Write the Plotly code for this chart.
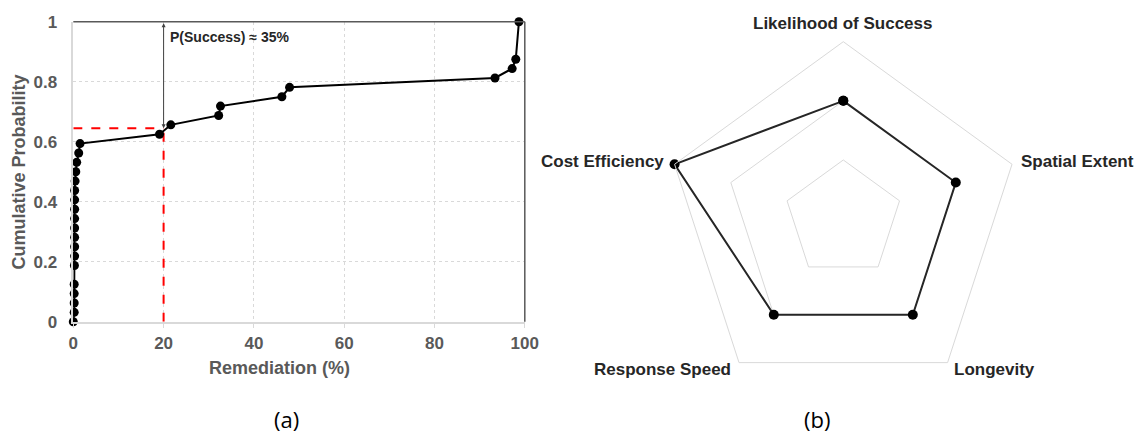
import plotly.graph_objects as go

# ---------------- data: panel (a) cumulative distribution ----------------
remediation_pct = [0.0, 0.2, 0.2, 0.2, 0.2, 0.25, 0.3, 0.3, 0.3, 0.3, 0.3, 0.3, 0.3, 0.3,
                   0.4, 0.55, 0.75, 1.2, 1.5, 19.1, 21.6, 32.2, 32.6, 46.2, 47.9,
                   93.4, 97.2, 98.0, 98.7]
cumulative_prob = [0.0, 0.03125, 0.0625, 0.09375, 0.125, 0.1875, 0.21875, 0.25, 0.28125,
                   0.3125, 0.34375, 0.375, 0.40625, 0.4375, 0.46875, 0.5, 0.53125, 0.5625,
                   0.59375, 0.625, 0.65625, 0.6875, 0.71875, 0.75, 0.78125, 0.8125,
                   0.84375, 0.875, 1.0]
threshold_x = 20
threshold_y = 0.645
success_label = "P(Success) ≈ 35%"
x_ticks = [0, 20, 40, 60, 80, 100]
y_ticks = [0, 0.2, 0.4, 0.6, 0.8, 1]
y_ticktext = ["0", "0.2", "0.4", "0.6", "0.8", "1"]

# ---------------- data: panel (b) radar ----------------
criteria = ["Likelihood of Success", "Spatial Extent", "Longevity", "Response Speed", "Cost Efficiency"]
scores = [2, 2, 2, 2, 3]
radar_grid = [1, 2, 3]

GRAY_TXT = "#595959"
GRID = "#d9d9d9"
FONT = "Liberation Sans, Arial, sans-serif"
W, H = 1137, 434

fig = go.Figure()

fig.add_trace(go.Scatter(
    x=[0, threshold_x], y=[threshold_y, threshold_y], mode="lines",
    line=dict(color="#ff0000", width=2, dash="dash"), showlegend=False, hoverinfo="skip",
    xaxis="x", yaxis="y"))
fig.add_trace(go.Scatter(
    x=[threshold_x, threshold_x], y=[0, threshold_y], mode="lines",
    line=dict(color="#ff0000", width=2, dash="dash"), showlegend=False, hoverinfo="skip",
    xaxis="x", yaxis="y"))
fig.add_trace(go.Scatter(
    x=remediation_pct, y=cumulative_prob, mode="lines+markers",
    line=dict(color="#000000", width=2), marker=dict(color="#000000", size=9),
    cliponaxis=False, showlegend=False, xaxis="x", yaxis="y"))

fig.add_trace(go.Scatterpolar(
    r=scores + scores[:1], theta=criteria + criteria[:1], mode="lines+markers",
    line=dict(color="#262626", width=2), marker=dict(color="#000000", size=10),
    showlegend=False, subplot="polar"))

# frame lines (top and right) of panel (a)
fig.add_shape(type="line", xref="x domain", yref="y domain", x0=0, x1=1, y0=1, y1=1,
              line=dict(color="#595959", width=1.5))
fig.add_shape(type="line", xref="x domain", yref="y domain", x0=1, x1=1, y0=0, y1=1,
              line=dict(color="#595959", width=1.5))

# double arrow
fig.add_annotation(x=threshold_x, y=threshold_y, ax=threshold_x, ay=1, xref="x", yref="y",
                   axref="x", ayref="y", text="", showarrow=True, arrowhead=2,
                   startarrowhead=2, arrowside="end+start", arrowsize=0.8, arrowwidth=1,
                   arrowcolor="#404040")
fig.add_annotation(x=21.0, y=0.948, xref="x", yref="y", text=success_label, showarrow=False,
                   xanchor="left", yanchor="middle",
                   font=dict(family=FONT, size=14, color="#262626", weight="bold"))

# axis titles
fig.add_annotation(x=279.5 / W, y=1 - 368 / H, xref="paper", yref="paper",
                   text="Remediation (%)", showarrow=False, xanchor="center", yanchor="middle",
                   font=dict(family=FONT, size=18, color=GRAY_TXT, weight="bold"))
fig.add_annotation(x=18.5 / W, y=1 - 172 / H, xref="paper", yref="paper",
                   text="Cumulative Probability", showarrow=False, textangle=-90,
                   xanchor="center", yanchor="middle",
                   font=dict(family=FONT, size=18, color=GRAY_TXT, weight="bold"))

# radar category labels (placed around the pentagon)
label_pos = {
    "Likelihood of Success": (842.5, 23.3, "center"),
    "Spatial Extent": (1019, 161.7, "left"),
    "Longevity": (952, 369, "left"),
    "Response Speed": (733, 369, "right"),
    "Cost Efficiency": (666, 161.7, "right"),
}
for name in criteria:
    px, py, anc = label_pos[name]
    fig.add_annotation(x=px / W, y=1 - py / H, xref="paper", yref="paper", text=name,
                       showarrow=False, xanchor=anc, yanchor="middle",
                       font=dict(family=FONT, size=17, color="#262626", weight="bold"))

# panel labels
fig.add_annotation(x=286.7 / W, y=1 - 419 / H, xref="paper", yref="paper", text="(a)",
                   showarrow=False, xanchor="center", yanchor="middle",
                   font=dict(family="Open Sans, sans-serif", size=22, color="#000000"))
fig.add_annotation(x=817 / W, y=1 - 419 / H, xref="paper", yref="paper", text="(b)",
                   showarrow=False, xanchor="center", yanchor="middle",
                   font=dict(family="Open Sans, sans-serif", size=22, color="#000000"))

fig.update_layout(
    width=W, height=H, margin=dict(l=0, r=0, t=0, b=0, autoexpand=False),
    paper_bgcolor="white", plot_bgcolor="white",
    xaxis=dict(domain=[73.3 / W, 524.8 / W], range=[0, 100], tickvals=x_ticks,
               showgrid=True, gridcolor=GRID, griddash="dot", gridwidth=1, zeroline=False,
               showline=True, linecolor=GRID, linewidth=1.5, ticks="outside", ticklen=5,
               tickcolor=GRID, tickfont=dict(family=FONT, size=17, color=GRAY_TXT, weight="bold"),
               anchor="y", fixedrange=True, automargin=False),
    yaxis=dict(domain=[1 - 321.7 / H, 1 - 21.7 / H], range=[0, 1], tickvals=y_ticks,
               ticktext=y_ticktext, showgrid=True, gridcolor=GRID, griddash="dot",
               gridwidth=1, zeroline=False, showline=True, linecolor=GRID, linewidth=1.5,
               ticks="", ticklabelstandoff=11,
               tickfont=dict(family=FONT, size=17, color=GRAY_TXT, weight="bold"),
               anchor="x", fixedrange=True, automargin=False),
    polar=dict(
        domain=dict(x=[665.9 / W, 1020.7 / W], y=[1 - 396.5 / H, 1 - 41.7 / H]),
        bgcolor="white", gridshape="linear",
        radialaxis=dict(range=[0, 3], tickvals=radar_grid, showgrid=True, gridcolor=GRID,
                        gridwidth=1, showline=False, showticklabels=False, ticks=""),
        angularaxis=dict(direction="clockwise", rotation=90, showgrid=False, showline=True,
                         linecolor=GRID, linewidth=1, ticks="", showticklabels=False),
    ),
)

fig.write_html("out.html", config={"displayModeBar": False},
               post_script="document.body.style.margin='0';")
